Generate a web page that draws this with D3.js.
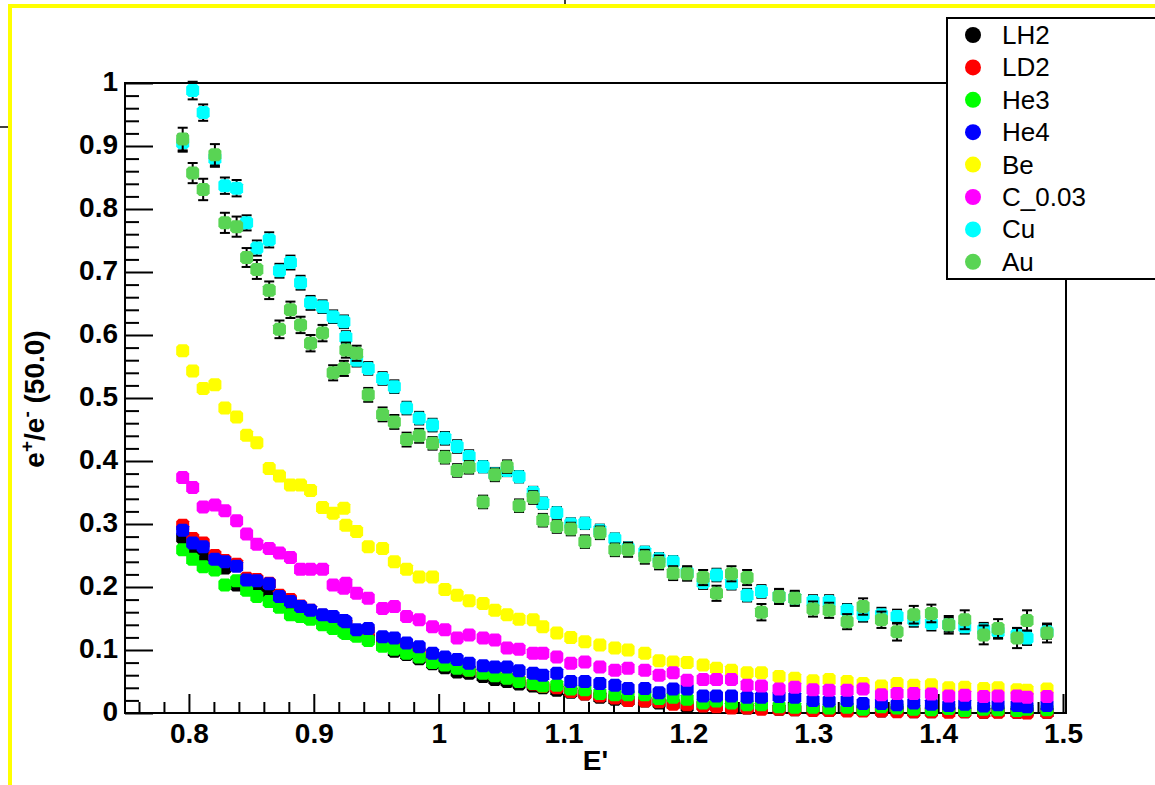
<!DOCTYPE html>
<html>
<head>
<meta charset="utf-8">
<script src="https://cdn.jsdelivr.net/npm/d3@7"></script>
<style>
  body { margin: 0; background: #fff; }
  svg { display: block; }
  text { font-family: "Liberation Sans", Arial, sans-serif; }
</style>
</head>
<body>
<div id="chart"></div>
<script>
// E' bin values (x)
var ePrime = [0.795, 0.803, 0.8114, 0.8208, 0.8288, 0.8382, 0.8462, 0.8544, 0.8643, 0.8725,
  0.8813, 0.8894, 0.8974, 0.907, 0.9155, 0.9241, 0.9257,
  0.9343, 0.9436, 0.9551, 0.9645, 0.9743, 0.9844, 0.9951, 1.005, 1.0148, 1.0244,
  1.0356, 1.045, 1.0548, 1.0644, 1.0757, 1.0834, 1.0946, 1.1058, 1.1171, 1.1291,
  1.1411, 1.1517, 1.1651, 1.1765, 1.1878, 1.199, 1.2118, 1.2225, 1.2345, 1.247,
  1.2585, 1.2726, 1.2852, 1.2998, 1.3127, 1.3271, 1.3399, 1.3546, 1.3671, 1.3805,
  1.3946, 1.4085, 1.4213, 1.4365, 1.448, 1.4632, 1.4712, 1.4872];

// e+/e- ratio per target
var valLH2 = [0.278, 0.259, 0.248, 0.236, 0.230, 0.203, 0.205, 0.198, 0.190, 0.178,
  0.168, 0.162, 0.155, 0.146, 0.140, 0.136, 0.134,
  0.125, 0.118, 0.108, 0.098, 0.093, 0.086, 0.078, 0.072, 0.065, 0.063,
  0.058, 0.053, 0.050, 0.046, 0.043, 0.040, 0.036, 0.033, 0.030, 0.025,
  0.022, 0.020, 0.019, 0.016, 0.015, 0.010, 0.012, 0.011, 0.009, 0.008,
  0.009, 0.006, 0.005, 0.006, 0.004, 0.005, 0.004, 0.003, 0.004, 0.002,
  0.002, 0.003, 0.002, 0.001, 0.002, 0.001, 0.002, 0.001];
var valLD2 = [0.298, 0.277, 0.270, 0.250, 0.242, 0.236, 0.214, 0.212, 0.206, 0.187,
  0.180, 0.170, 0.163, 0.155, 0.150, 0.143, 0.141,
  0.128, 0.130, 0.116, 0.112, 0.104, 0.097, 0.087, 0.080, 0.075, 0.068,
  0.064, 0.060, 0.056, 0.051, 0.046, 0.042, 0.040, 0.034, 0.030, 0.027,
  0.024, 0.020, 0.019, 0.018, 0.014, 0.013, 0.011, 0.010, 0.008, 0.008,
  0.006, 0.006, 0.005, 0.004, 0.004, 0.003, 0.003, 0.003, 0.002, 0.002,
  0.002, 0.001, 0.002, 0.001, 0.001, 0.001, 0.000, 0.001];
var valHe3 = [0.259, 0.244, 0.232, 0.227, 0.203, 0.210, 0.195, 0.185, 0.177, 0.168,
  0.156, 0.153, 0.149, 0.140, 0.134, 0.128, 0.126,
  0.122, 0.115, 0.106, 0.101, 0.095, 0.089, 0.080, 0.076, 0.071, 0.068,
  0.063, 0.059, 0.055, 0.050, 0.047, 0.043, 0.044, 0.038, 0.037, 0.031,
  0.029, 0.029, 0.029, 0.023, 0.025, 0.022, 0.016, 0.019, 0.016, 0.013,
  0.013, 0.010, 0.009, 0.009, 0.008, 0.009, 0.006, 0.010, 0.008, 0.006,
  0.005, 0.007, 0.004, 0.006, 0.005, 0.004, 0.006, 0.005];
var valHe4 = [0.290, 0.270, 0.264, 0.244, 0.240, 0.233, 0.211, 0.210, 0.205, 0.185,
  0.177, 0.169, 0.163, 0.156, 0.153, 0.147, 0.145,
  0.132, 0.134, 0.121, 0.119, 0.111, 0.105, 0.095, 0.089, 0.085, 0.079,
  0.075, 0.073, 0.073, 0.067, 0.063, 0.060, 0.063, 0.050, 0.050, 0.047,
  0.044, 0.039, 0.039, 0.032, 0.038, 0.038, 0.027, 0.027, 0.027, 0.025,
  0.025, 0.026, 0.025, 0.020, 0.019, 0.020, 0.015, 0.015, 0.013, 0.016,
  0.014, 0.012, 0.014, 0.011, 0.013, 0.012, 0.010, 0.012];
var valBe = [0.575, 0.543, 0.515, 0.521, 0.484, 0.470, 0.441, 0.429, 0.388, 0.376,
  0.362, 0.362, 0.353, 0.326, 0.317, 0.325, 0.298,
  0.288, 0.264, 0.261, 0.240, 0.228, 0.216, 0.216, 0.196, 0.187, 0.178,
  0.174, 0.163, 0.156, 0.149, 0.148, 0.137, 0.127, 0.120, 0.113, 0.108,
  0.103, 0.100, 0.095, 0.083, 0.081, 0.080, 0.076, 0.071, 0.068, 0.064,
  0.064, 0.058, 0.055, 0.051, 0.053, 0.050, 0.047, 0.043, 0.047, 0.044,
  0.045, 0.040, 0.041, 0.039, 0.040, 0.037, 0.036, 0.038];
var valC = [0.374, 0.358, 0.327, 0.330, 0.321, 0.305, 0.284, 0.268, 0.261, 0.254,
  0.247, 0.228, 0.228, 0.228, 0.203, 0.198, 0.206,
  0.190, 0.182, 0.166, 0.169, 0.153, 0.148, 0.137, 0.132, 0.119, 0.124,
  0.119, 0.116, 0.103, 0.101, 0.095, 0.095, 0.089, 0.079, 0.081, 0.073,
  0.068, 0.071, 0.068, 0.060, 0.064, 0.052, 0.053, 0.053, 0.053, 0.044,
  0.043, 0.038, 0.041, 0.037, 0.036, 0.036, 0.038, 0.029, 0.031, 0.031,
  0.030, 0.027, 0.028, 0.026, 0.027, 0.027, 0.025, 0.026];
var valCu = [0.905, 0.988, 0.953, 0.880, 0.837, 0.833, 0.778, 0.738, 0.751, 0.702,
  0.715, 0.683, 0.651, 0.645, 0.629, 0.621, 0.596,
  0.560, 0.547, 0.531, 0.518, 0.484, 0.468, 0.457, 0.436, 0.423, 0.407,
  0.391, 0.380, 0.385, 0.375, 0.350, 0.333, 0.318, 0.300, 0.301, 0.290,
  0.276, 0.262, 0.255, 0.245, 0.240, 0.223, 0.207, 0.219, 0.206, 0.187,
  0.193, 0.185, 0.182, 0.177, 0.177, 0.163, 0.156, 0.156, 0.153, 0.148,
  0.142, 0.140, 0.137, 0.132, 0.129, 0.124, 0.119, 0.129];
var valAu = [0.911, 0.857, 0.831, 0.886, 0.778, 0.772, 0.723, 0.704, 0.671, 0.609,
  0.640, 0.616, 0.587, 0.603, 0.540, 0.547, 0.576,
  0.571, 0.505, 0.474, 0.462, 0.434, 0.440, 0.428, 0.406, 0.385, 0.390,
  0.335, 0.378, 0.391, 0.329, 0.342, 0.306, 0.296, 0.292, 0.272, 0.286,
  0.259, 0.259, 0.248, 0.239, 0.222, 0.221, 0.215, 0.190, 0.221, 0.215,
  0.160, 0.185, 0.182, 0.165, 0.163, 0.145, 0.169, 0.148, 0.129, 0.156,
  0.158, 0.140, 0.148, 0.124, 0.134, 0.119, 0.147, 0.127];

// statistical errors (only visible ones)
var errCu = [0.014, 0.014, 0.013, 0.013, 0.013, 0.013, 0.012, 0.012, 0.012, 0.011,
  0.011, 0.011, 0.011, 0.010, 0.010, 0.010, 0.010,
  0.010, 0.010, 0.010, 0.010, 0.010, 0.010, 0.010, 0.010, 0.010, 0.010,
  0.009, 0.009, 0.009, 0.009, 0.009, 0.009, 0.009, 0.009, 0.009, 0.009,
  0.009, 0.009, 0.009, 0.009, 0.009, 0.010, 0.010, 0.010, 0.010, 0.010,
  0.010, 0.010, 0.010, 0.010, 0.010, 0.010, 0.011, 0.011, 0.011, 0.011,
  0.011, 0.011, 0.011, 0.011, 0.011, 0.011, 0.011, 0.011];
var errAu = [0.018, 0.016, 0.017, 0.017, 0.016, 0.016, 0.015, 0.015, 0.014, 0.014,
  0.013, 0.013, 0.013, 0.013, 0.012, 0.012, 0.012,
  0.012, 0.011, 0.011, 0.011, 0.011, 0.011, 0.010, 0.010, 0.010, 0.010,
  0.010, 0.010, 0.010, 0.010, 0.010, 0.010, 0.010, 0.010, 0.010, 0.010,
  0.010, 0.011, 0.011, 0.011, 0.011, 0.011, 0.012, 0.012, 0.012, 0.012,
  0.013, 0.012, 0.012, 0.012, 0.012, 0.012, 0.013, 0.013, 0.014, 0.014,
  0.014, 0.014, 0.015, 0.015, 0.015, 0.016, 0.016, 0.015];

var seriesNames = ["LH2", "LD2", "He3", "He4", "Be", "C_0.03", "Cu", "Au"];
var seriesValues = [valLH2, valLD2, valHe3, valHe4, valBe, valC, valCu, valAu];
var seriesErrors = [null, null, null, null, null, null, errCu, errAu];
var seriesColors = ["#000000", "#ff0000", "#00ff00", "#0000ff", "#ffff00", "#ff00ff", "#00ffff", "#59d454"];

var xTickLabels = ["0.8", "0.9", "1", "1.1", "1.2", "1.3", "1.4", "1.5"];
var xTickValues = [0.8, 0.9, 1.0, 1.1, 1.2, 1.3, 1.4, 1.5];
var yTickLabels = ["0", "0.1", "0.2", "0.3", "0.4", "0.5", "0.6", "0.7", "0.8", "0.9", "1"];
var yTickValues = [0, 0.1, 0.2, 0.3, 0.4, 0.5, 0.6, 0.7, 0.8, 0.9, 1.0];

var W = 1155, H = 785;
var frame = {left: 125, top: 83, right: 1066, bottom: 713};

var svg = d3.select("#chart").append("svg")
    .attr("width", W)
    .attr("height", H);

svg.append("rect").attr("width", W).attr("height", H).attr("fill", "#fff");

var x = d3.scaleLinear().domain([0.7488, 1.5024]).range([frame.left, frame.right]);
var y = d3.scaleLinear().domain([0, 1]).range([frame.bottom, frame.top]);

// minor ticks every 0.02
var xMinor = d3.range(0.76, 1.501, 0.02).filter(v => Math.abs(v * 10 - Math.round(v * 10)) > 1e-6);
var yMinor = d3.range(0.02, 1.0, 0.02).filter(v => Math.abs(v * 10 - Math.round(v * 10)) > 1e-6);

var gx = svg.append("g").attr("transform", `translate(0,${frame.bottom})`);
gx.append("g")
  .call(d3.axisBottom(x).tickValues(xMinor).tickFormat("").tickSizeInner(-11).tickSizeOuter(0));
gx.append("g")
  .call(d3.axisBottom(x).tickValues(xTickValues)
    .tickFormat((d, i) => xTickLabels[i]).tickSizeInner(-19).tickSizeOuter(0).tickPadding(10));

var gy = svg.append("g").attr("transform", `translate(${frame.left},0)`);
gy.append("g")
  .call(d3.axisLeft(y).tickValues(yMinor).tickFormat("").tickSizeInner(-14).tickSizeOuter(0));
gy.append("g")
  .call(d3.axisLeft(y).tickValues(yTickValues)
    .tickFormat((d, i) => yTickLabels[i]).tickSizeInner(-28).tickSizeOuter(0).tickPadding(7));

svg.selectAll(".domain").remove();
svg.selectAll(".tick line").attr("stroke", "#000").attr("stroke-width", 2);
svg.selectAll(".tick text")
  .attr("font-family", "'Liberation Sans', Arial, sans-serif")
  .attr("font-size", 28)
  .attr("font-weight", "bold")
  .attr("fill", "#000");
gy.selectAll(".tick text").attr("dy", "0.26em");

// frame
svg.append("rect")
  .attr("x", frame.left).attr("y", frame.top)
  .attr("width", frame.right - frame.left).attr("height", frame.bottom - frame.top)
  .attr("fill", "none").attr("stroke", "#000").attr("stroke-width", 2);

// blocky ROOT-like marker (cut-corner square)
function markerPath(cx, cy) {
  var h = 6.5, c = 2.5;
  return `M${cx - h + c},${cy - h}H${cx + h - c}L${cx + h},${cy - h + c}V${cy + h - c}` +
         `L${cx + h - c},${cy + h}H${cx - h + c}L${cx - h},${cy + h - c}V${cy - h + c}Z`;
}

// data: error bars and markers, drawn series by series
var plot = svg.append("g");
seriesValues.forEach(function(vals, s) {
  var g = plot.append("g");
  var pts = ePrime.map((e, i) => ({e: e, v: vals[i], err: seriesErrors[s] ? seriesErrors[s][i] : 0}));
  if (seriesErrors[s]) {
    var eb = g.selectAll("g.eb").data(pts).join("g").attr("class", "eb");
    eb.append("line")
      .attr("x1", d => x(d.e)).attr("x2", d => x(d.e))
      .attr("y1", d => y(d.v - d.err)).attr("y2", d => y(d.v + d.err))
      .attr("stroke", "#000").attr("stroke-width", 2);
    [-1, 1].forEach(function(sgn) {
      eb.append("line")
        .attr("x1", d => x(d.e) - 5).attr("x2", d => x(d.e) + 5)
        .attr("y1", d => y(d.v + sgn * d.err)).attr("y2", d => y(d.v + sgn * d.err))
        .attr("stroke", "#000").attr("stroke-width", 2);
    });
  }
  g.selectAll("path.mk").data(pts).join("path")
    .attr("class", "mk")
    .attr("d", d => markerPath(x(d.e), y(d.v)))
    .attr("fill", seriesColors[s]);
});

// axis titles
svg.append("text")
  .attr("x", (frame.left + frame.right) / 2).attr("y", 770)
  .attr("text-anchor", "middle")
  .attr("font-size", 28).attr("font-weight", "bold")
  .text("E'");

var yt = svg.append("text")
  .attr("transform", "translate(44,399) rotate(-90)")
  .attr("text-anchor", "middle")
  .attr("font-size", 28).attr("font-weight", "bold");
yt.append("tspan").text("e");
yt.append("tspan").attr("font-size", 19).attr("dy", -11).text("+");
yt.append("tspan").attr("dy", 11).text("/e");
yt.append("tspan").attr("font-size", 19).attr("dy", -11).text("-");
yt.append("tspan").attr("dy", 11).text(" (50.0)");

// legend
var legend = svg.append("g");
legend.append("rect")
  .attr("x", 947).attr("y", 18).attr("width", 230).attr("height", 261)
  .attr("fill", "#fff").attr("stroke", "#000").attr("stroke-width", 2);
var li = legend.selectAll("g.item").data(seriesNames).join("g")
  .attr("class", "item")
  .attr("transform", (d, i) => `translate(0,${35 + i * 32.4})`);
li.append("circle").attr("cx", 973).attr("cy", 0).attr("r", 8)
  .attr("fill", (d, i) => seriesColors[i]);
li.append("text").attr("x", 1002).attr("y", 9)
  .attr("font-size", 26)
  .text(d => d);

// pad highlight and stray lines from neighbouring pads
svg.append("path")
  .attr("d", "M10,790 V6 H1160")
  .attr("fill", "none").attr("stroke", "#ffff00").attr("stroke-width", 4);
svg.append("line").attr("x1", 0).attr("x2", 8).attr("y1", 127).attr("y2", 127)
  .attr("stroke", "#000").attr("stroke-width", 1.5);
svg.append("line").attr("x1", 565).attr("x2", 565).attr("y1", 0).attr("y2", 4)
  .attr("stroke", "#000").attr("stroke-width", 1.5);
</script>
</body>
</html>
